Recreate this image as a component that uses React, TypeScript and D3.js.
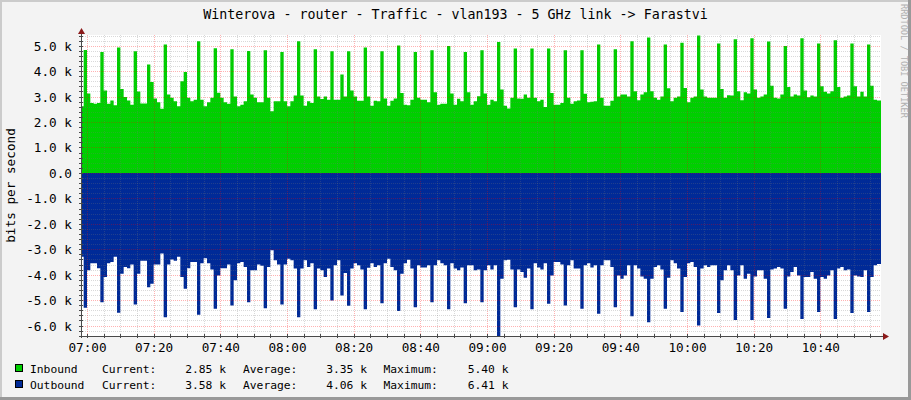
import { useEffect, useRef } from "react";
import * as d3 from "d3";

const WIDTH = 911;
const HEIGHT = 400;

const title = "Winterova - router - Traffic - vlan193 - 5 GHz link -> Farastvi";
const yAxisTitle = "bits per second";
const watermark = "RRDTOOL / TOBI OETIKER";

// kbit/s, one sample per minute starting at 06:58
const inbound = [
  2.62, 4.83, 3.12, 2.75, 2.72, 2.75, 4.75, 3.24, 2.72, 2.85, 2.66, 4.93, 3.3, 2.98, 2.85, 2.68,
  4.78, 3.2, 2.73, 2.73, 4.26, 3.57, 2.92, 2.78, 2.52, 5.05, 3.08, 2.95, 2.82, 2.62, 3.6, 3.97,
  2.95, 2.82, 2.88, 5.17, 2.88, 2.62, 2.78, 2.95, 4.9, 3.15, 2.95, 2.78, 2.72, 4.86, 3.0, 2.62,
  2.68, 2.82, 4.79, 3.08, 2.95, 2.78, 2.78, 4.82, 2.95, 2.42, 2.82, 2.82, 4.75, 2.82, 2.62, 2.82,
  3.04, 5.17, 3.04, 2.64, 2.82, 2.75, 4.86, 3.0, 2.9, 3.0, 2.88, 4.78, 2.88, 2.88, 3.87, 3.0,
  4.78, 3.24, 3.0, 2.84, 2.84, 4.93, 3.0, 2.64, 2.84, 2.82, 4.78, 2.92, 2.64, 2.84, 2.92, 5.01,
  3.14, 2.68, 2.66, 2.88, 4.75, 2.95, 2.88, 2.88, 2.78, 4.82, 3.17, 2.68, 2.72, 2.72, 4.99, 3.12,
  2.68, 2.91, 2.82, 4.75, 3.17, 2.68, 2.82, 3.01, 4.82, 3.12, 2.68, 2.88, 2.82, 5.14, 3.28, 2.64,
  2.53, 2.95, 4.89, 2.92, 2.91, 3.08, 2.95, 4.89, 2.95, 2.82, 2.88, 2.59, 4.89, 3.14, 2.68, 2.68,
  2.75, 4.82, 2.95, 2.72, 2.82, 2.85, 4.82, 3.11, 2.78, 2.8, 2.82, 5.05, 2.95, 2.64, 2.64, 2.84,
  4.86, 3.0, 3.08, 3.08, 3.0, 5.17, 3.21, 2.86, 3.08, 3.17, 5.32, 3.21, 2.95, 2.88, 3.0, 5.05,
  3.33, 2.82, 2.95, 3.0, 5.12, 3.34, 2.78, 2.95, 3.0, 5.4, 3.28, 3.0, 2.95, 2.95, 2.95, 5.09,
  3.3, 2.95, 3.05, 3.04, 5.25, 3.21, 2.86, 3.17, 3.12, 5.29, 3.28, 2.95, 3.0, 3.08, 5.16, 3.43,
  2.95, 2.92, 3.08, 4.99, 3.38, 3.0, 3.08, 3.04, 5.29, 3.24, 2.97, 3.04, 3.0, 5.09, 3.41, 3.19,
  3.12, 3.21, 5.21, 3.38, 2.95, 3.0, 3.04, 5.09, 3.41, 3.0, 3.19, 3.0, 5.05, 3.43, 2.88, 2.85,
];

const outbound = [
  3.3, 5.3, 3.83, 3.55, 3.55, 3.75, 5.08, 4.09, 3.55, 3.5, 3.3, 5.5, 3.96, 3.7, 3.75, 3.6,
  5.17, 3.96, 3.45, 3.45, 4.49, 4.36, 3.6, 3.6, 3.17, 5.67, 3.6, 3.4, 3.45, 3.3, 4.09, 4.55,
  3.75, 3.5, 3.5, 5.57, 3.55, 3.35, 3.55, 3.8, 5.34, 4.03, 3.75, 3.75, 3.6, 5.21, 4.22, 3.55,
  3.5, 3.7, 5.08, 3.83, 3.83, 3.6, 3.65, 5.32, 3.7, 3.04, 3.43, 3.6, 5.17, 3.6, 3.37, 3.43,
  3.76, 5.67, 3.76, 3.43, 3.7, 3.55, 5.36, 3.76, 3.83, 4.09, 3.76, 5.01, 3.63, 3.43, 4.82, 3.93,
  5.22, 3.76, 3.55, 3.63, 3.8, 5.36, 3.73, 3.55, 3.7, 3.63, 5.12, 3.55, 3.37, 3.7, 3.83, 5.43,
  3.96, 3.55, 3.41, 3.76, 5.28, 3.63, 3.72, 3.72, 3.63, 5.08, 3.63, 3.43, 3.55, 3.63, 5.36, 3.55,
  3.76, 3.83, 3.72, 5.12, 3.63, 3.63, 3.83, 3.8, 5.08, 3.83, 3.63, 3.8, 3.63, 6.41, 4.16, 3.43,
  3.41, 3.8, 5.28, 3.8, 3.89, 4.12, 3.76, 5.36, 3.55, 3.72, 3.8, 3.55, 5.14, 4.03, 3.5, 3.5,
  3.6, 5.21, 3.63, 3.43, 3.76, 3.76, 5.34, 3.63, 3.55, 3.72, 3.63, 5.54, 3.63, 3.43, 3.43, 3.7,
  5.28, 4.03, 4.16, 4.03, 3.63, 5.63, 3.63, 3.76, 4.07, 4.16, 5.87, 4.16, 3.7, 3.63, 3.8, 5.34,
  4.12, 3.43, 3.55, 3.76, 5.47, 4.09, 3.55, 3.5, 3.7, 6.0, 3.76, 3.63, 3.7, 3.63, 3.63, 5.51,
  4.22, 3.83, 3.63, 3.83, 5.78, 4.03, 3.63, 4.16, 3.96, 5.78, 4.07, 3.83, 3.83, 4.16, 5.7, 3.8,
  3.76, 3.7, 3.76, 5.34, 4.07, 3.89, 3.7, 4.03, 5.74, 4.09, 4.09, 3.89, 4.16, 5.47, 4.09, 4.16,
  4.03, 3.83, 5.74, 3.76, 3.7, 3.83, 3.8, 5.51, 4.03, 4.07, 4.09, 3.83, 5.47, 4.09, 3.63, 3.58,
];

const xLabels = ["07:00", "07:20", "07:40", "08:00", "08:20", "08:40", "09:00", "09:20", "09:40", "10:00", "10:20", "10:40"];
const yTickValues = [-6, -5, -4, -3, -2, -1, 0, 1, 2, 3, 4, 5];
const yLabels = ["-6.0 k", "-5.0 k", "-4.0 k", "-3.0 k", "-2.0 k", "-1.0 k", "0.0", "1.0 k", "2.0 k", "3.0 k", "4.0 k", "5.0 k"];

const seriesNames = ["Inbound", "Outbound"];
const seriesColors = ["#00CF00", "#002A97"];
const currentValues = ["2.85 k", "3.58 k"];
const averageValues = ["3.35 k", "4.06 k"];
const maximumValues = ["5.40 k", "6.41 k"];

const MONO = "'DejaVu Sans Mono', monospace";

type Pt = { t: Date; v: number };

const App = () => {
  const ref = useRef<SVGSVGElement>(null);

  useEffect(() => {
    const svg = d3.select(ref.current);
    svg.selectAll("*").remove();

    const left = 81;
    const right = 881;
    const top = 35;
    const bottom = 336;

    const start = new Date(2024, 0, 1, 6, 58, 12);
    const end = new Date(2024, 0, 1, 10, 58, 12);
    const firstSample = new Date(2024, 0, 1, 6, 58, 0);
    const sampleTime = (i: number) => d3.timeMinute.offset(firstSample, i);

    const x = d3.scaleTime().domain([start, end]).range([left, right]);
    const y = d3.scaleLinear().domain([-6.41, 5.42]).range([bottom, top]);

    // background + shaded frame
    svg.append("rect").attr("width", WIDTH).attr("height", HEIGHT).attr("fill", "#F3F3F3");
    svg.append("rect").attr("x", 0).attr("y", 0).attr("width", WIDTH).attr("height", 2).attr("fill", "#CBCBCB");
    svg.append("rect").attr("x", 0).attr("y", 0).attr("width", 2).attr("height", HEIGHT).attr("fill", "#CBCBCB");
    svg.append("rect").attr("x", WIDTH - 3).attr("y", 0).attr("width", 3).attr("height", HEIGHT).attr("fill", "#999999");
    svg.append("rect").attr("x", 0).attr("y", HEIGHT - 3).attr("width", WIDTH).attr("height", 3).attr("fill", "#999999");

    // canvas
    svg.append("rect").attr("x", left).attr("y", top).attr("width", right - left).attr("height", bottom - top).attr("fill", "#FFFFFF");

    svg.append("clipPath").attr("id", "plotclip")
      .append("rect").attr("x", left).attr("y", top).attr("width", right - left).attr("height", bottom - top);

    const area = d3.area<Pt>()
      .x((d) => x(d.t))
      .y0(y(0))
      .y1((d) => y(d.v))
      .curve(d3.curveStepAfter);

    const toPts = (vals: number[], sign: number): Pt[] =>
      [...vals, vals[vals.length - 1], vals[vals.length - 1]].map((v, i) => ({ t: sampleTime(i), v: sign * v }));

    const plot = svg.append("g").attr("clip-path", "url(#plotclip)");
    plot.append("path").datum(toPts(inbound, 1)).attr("fill", seriesColors[0]).attr("d", area);
    plot.append("path").datum(toPts(outbound, -1)).attr("fill", seriesColors[1]).attr("d", area);

    // grid drawn over the data
    const grid = svg.append("g").attr("stroke-dasharray", "1,1").attr("stroke-width", 1);
    const minorColor = "rgba(120,120,120,0.28)";
    const majorColor = "rgba(255,0,0,0.3)";
    const minorX = d3.timeMinute.every(5)!.range(start, end).filter((d) => d.getMinutes() % 20 !== 0);
    const majorX = d3.timeMinute.every(20)!.range(start, end);
    grid.selectAll("line.vmin").data(minorX).enter().append("line")
      .attr("x1", (d) => Math.round(x(d)) + 0.5).attr("x2", (d) => Math.round(x(d)) + 0.5)
      .attr("y1", top).attr("y2", bottom)
      .attr("stroke", minorColor);
    const minorY = d3.range(-32, 28).filter((k) => k % 5 !== 0).map((k) => k * 0.2);
    grid.selectAll("line.hmin").data(minorY).enter().append("line")
      .attr("x1", left).attr("x2", right)
      .attr("y1", (d) => Math.round(y(d)) + 0.5).attr("y2", (d) => Math.round(y(d)) + 0.5)
      .attr("stroke", minorColor);
    grid.selectAll("line.vmaj").data(majorX).enter().append("line")
      .attr("x1", (d) => Math.round(x(d)) + 0.5).attr("x2", (d) => Math.round(x(d)) + 0.5)
      .attr("y1", top).attr("y2", bottom)
      .attr("stroke", majorColor);
    grid.selectAll("line.hmaj").data(yTickValues).enter().append("line")
      .attr("x1", left).attr("x2", right)
      .attr("y1", (d) => Math.round(y(d)) + 0.5).attr("y2", (d) => Math.round(y(d)) + 0.5)
      .attr("stroke", majorColor);

    // axes
    const axisColor = "#4A4A4A";
    svg.append("line").attr("x1", left + 0.5).attr("x2", left + 0.5).attr("y1", bottom + 2).attr("y2", top - 2)
      .attr("stroke", axisColor);
    svg.append("line").attr("x1", left - 2).attr("x2", right + 2).attr("y1", bottom + 0.5).attr("y2", bottom + 0.5)
      .attr("stroke", axisColor);
    svg.selectAll("line.ytick").data(minorY.concat(yTickValues)).enter().append("line")
      .attr("x1", left - 2).attr("x2", left + 2)
      .attr("y1", (d) => Math.round(y(d)) + 0.5).attr("y2", (d) => Math.round(y(d)) + 0.5)
      .attr("stroke", axisColor);
    svg.selectAll("line.xtick").data(minorX.concat(majorX)).enter().append("line")
      .attr("x1", (d) => Math.round(x(d)) + 0.5).attr("x2", (d) => Math.round(x(d)) + 0.5)
      .attr("y1", bottom - 2).attr("y2", bottom + 2)
      .attr("stroke", axisColor);
    const arrowColor = "#8B1A1A";
    svg.append("path").attr("d", `M${left + 0.5},${top - 7} L${left - 3},${top - 1} L${left + 4},${top - 1} Z`).attr("fill", arrowColor);
    svg.append("path").attr("d", `M${right + 8},${bottom + 0.5} L${right + 2},${bottom - 3} L${right + 2},${bottom + 4} Z`).attr("fill", arrowColor);

    // tick labels
    svg.selectAll("text.ylab").data(yTickValues).enter().append("text")
      .attr("x", 72).attr("y", (d) => y(d) + 5)
      .attr("text-anchor", "end")
      .attr("font-family", MONO).attr("font-size", 12.7).attr("fill", "#000")
      .text((_, i) => yLabels[i]);
    svg.selectAll("text.xlab").data(majorX).enter().append("text")
      .attr("x", (d) => x(d) + 0.5).attr("y", 351.5)
      .attr("text-anchor", "middle")
      .attr("font-family", MONO).attr("font-size", 12.7).attr("fill", "#000")
      .text((_, i) => xLabels[i]);

    // titles
    svg.append("text").attr("x", 455.5).attr("y", 19).attr("text-anchor", "middle")
      .attr("font-family", MONO).attr("font-size", 13.3).attr("fill", "#000").text(title);
    svg.append("text").attr("transform", `translate(15,${(top + bottom) / 2}) rotate(-90)`)
      .attr("text-anchor", "middle")
      .attr("font-family", MONO).attr("font-size", 12.7).attr("fill", "#000").text(yAxisTitle);
    svg.append("text").attr("transform", "translate(901,4) rotate(90)")
      .attr("font-family", MONO).attr("font-size", 8.6).attr("fill", "#B0B0B0").text(watermark);

    // legend
    const rowY = [373, 389];
    const legend = svg.append("g").attr("font-family", MONO).attr("font-size", 11.3).attr("fill", "#000");
    seriesNames.forEach((name, i) => {
      const by = rowY[i];
      legend.append("rect").attr("x", 15.5).attr("y", by - 8.5).attr("width", 7).attr("height", 7)
        .attr("fill", seriesColors[i]).attr("stroke", "#000").attr("stroke-width", 1);
      legend.append("text").attr("x", 30).attr("y", by).text(name);
      legend.append("text").attr("x", 102).attr("y", by).text("Current:");
      legend.append("text").attr("x", 226).attr("y", by).attr("text-anchor", "end").text(currentValues[i]);
      legend.append("text").attr("x", 243).attr("y", by).text("Average:");
      legend.append("text").attr("x", 367).attr("y", by).attr("text-anchor", "end").text(averageValues[i]);
      legend.append("text").attr("x", 383.5).attr("y", by).text("Maximum:");
      legend.append("text").attr("x", 508.5).attr("y", by).attr("text-anchor", "end").text(maximumValues[i]);
    });
  }, []);

  return (
    <svg
      ref={ref}
      width={WIDTH}
      height={HEIGHT}
      style={{ position: "absolute", left: 0, top: 0 }}
    />
  );
};

export default App;
